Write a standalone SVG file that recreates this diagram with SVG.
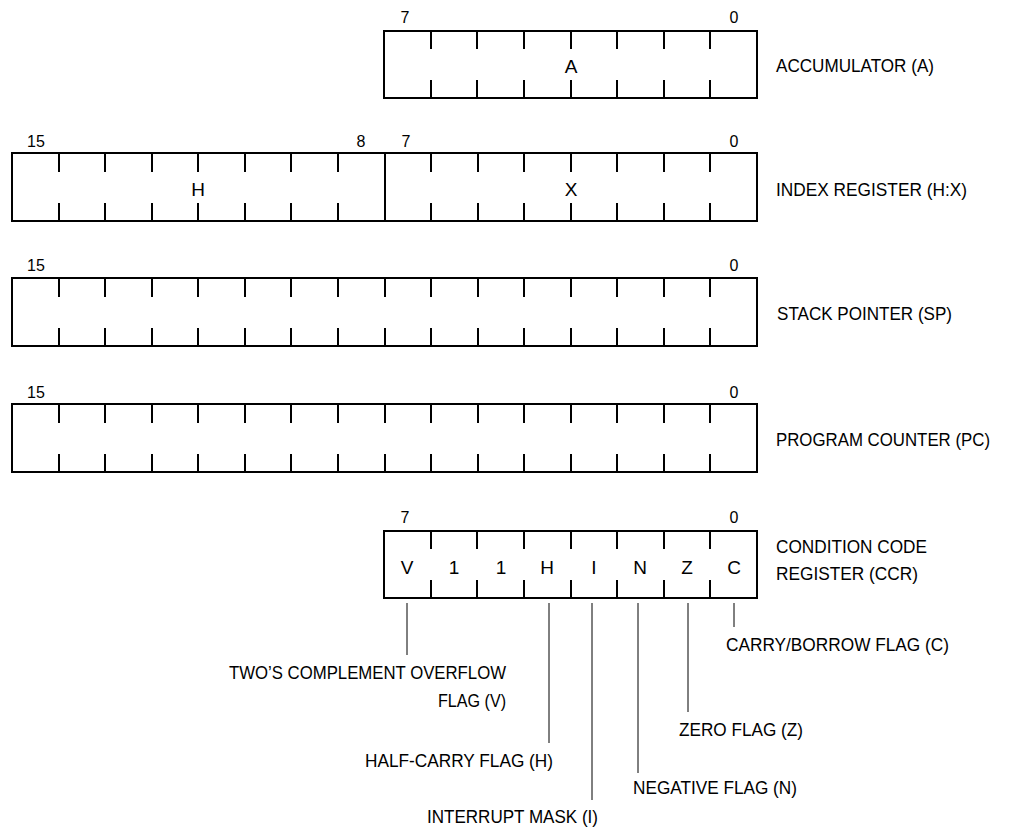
<svg xmlns="http://www.w3.org/2000/svg" width="1010" height="832" viewBox="0 0 1010 832">
<style>
.box{fill:none;stroke:#000;stroke-width:2}
.tick{fill:none;stroke:#000;stroke-width:2}
.lead{fill:none;stroke:#000;stroke-width:1}
text{font-family:"Liberation Sans",Arial,sans-serif;fill:#000}
.bit{font-size:16px;text-anchor:middle}
.cell{font-size:19px;text-anchor:middle}
.lbl{font-size:19px}
.lbl2{font-size:17.5px}
</style>
<rect width="1010" height="832" fill="#fff"/>
<g id="accumulator">
<rect class="box" x="384" y="31" width="373" height="67"/>
<path class="tick" d="M431,31v18M477,31v18M524,31v18M571,31v18M617,31v18M664,31v18M710,31v18M431,80v18M477,80v18M524,80v18M571,80v18M617,80v18M664,80v18M710,80v18"/>
<text class="bit" x="405" y="23">7</text>
<text class="bit" x="734" y="23">0</text>
<text class="cell" x="571" y="73">A</text>
<text class="lbl" x="776" y="72" textLength="158" lengthAdjust="spacingAndGlyphs">ACCUMULATOR (A)</text>
</g>
<g id="index-register">
<rect class="box" x="12" y="153" width="745" height="68"/>
<path class="tick" d="M385,153v68M59,153v19M105,153v19M152,153v19M198,153v19M245,153v19M291,153v19M338,153v19M431,153v19M478,153v19M524,153v19M571,153v19M617,153v19M664,153v19M710,153v19M59,203v18M105,203v18M152,203v18M198,203v18M245,203v18M291,203v18M338,203v18M431,203v18M478,203v18M524,203v18M571,203v18M617,203v18M664,203v18M710,203v18"/>
<text class="bit" x="36" y="147">15</text>
<text class="bit" x="361" y="147">8</text>
<text class="bit" x="406" y="147">7</text>
<text class="bit" x="734" y="147">0</text>
<text class="cell" x="198" y="196">H</text>
<text class="cell" x="571" y="196">X</text>
<text class="lbl" x="776" y="196" textLength="191" lengthAdjust="spacingAndGlyphs">INDEX REGISTER (H:X)</text>
</g>
<g id="stack-pointer">
<rect class="box" x="12" y="278" width="745" height="68"/>
<path class="tick" d="M59,278v19M105,278v19M152,278v19M198,278v19M245,278v19M291,278v19M338,278v19M385,278v19M431,278v19M478,278v19M524,278v19M571,278v19M617,278v19M664,278v19M710,278v19M59,328v18M105,328v18M152,328v18M198,328v18M245,328v18M291,328v18M338,328v18M385,328v18M431,328v18M478,328v18M524,328v18M571,328v18M617,328v18M664,328v18M710,328v18"/>
<text class="bit" x="36" y="271">15</text>
<text class="bit" x="734" y="271">0</text>
<text class="lbl" x="777" y="320" textLength="175" lengthAdjust="spacingAndGlyphs">STACK POINTER (SP)</text>
</g>
<g id="program-counter">
<rect class="box" x="12" y="404" width="745" height="68"/>
<path class="tick" d="M59,404v19M105,404v19M152,404v19M198,404v19M245,404v19M291,404v19M338,404v19M385,404v19M431,404v19M478,404v19M524,404v19M571,404v19M617,404v19M664,404v19M710,404v19M59,454v18M105,454v18M152,454v18M198,454v18M245,454v18M291,454v18M338,454v18M385,454v18M431,454v18M478,454v18M524,454v18M571,454v18M617,454v18M664,454v18M710,454v18"/>
<text class="bit" x="36" y="398">15</text>
<text class="bit" x="734" y="398">0</text>
<text class="lbl2" x="776" y="446" textLength="214" lengthAdjust="spacingAndGlyphs">PROGRAM COUNTER (PC)</text>
</g>
<g id="condition-code-register">
<rect class="box" x="384" y="531" width="373" height="67"/>
<path class="tick" d="M431,531v18M477,531v18M524,531v18M571,531v18M617,531v18M664,531v18M710,531v18M431,580v18M477,580v18M524,580v18M571,580v18M617,580v18M664,580v18M710,580v18"/>
<text class="bit" x="405" y="523">7</text>
<text class="bit" x="734" y="523">0</text>
<text class="cell" x="407" y="574">V</text>
<text class="cell" x="454" y="574">1</text>
<text class="cell" x="501" y="574">1</text>
<text class="cell" x="547" y="574">H</text>
<text class="cell" x="594" y="574">I</text>
<text class="cell" x="640" y="574">N</text>
<text class="cell" x="687" y="574">Z</text>
<text class="cell" x="734" y="574">C</text>
<text class="lbl" x="776" y="553" textLength="151" lengthAdjust="spacingAndGlyphs">CONDITION CODE</text>
<text class="lbl" x="776" y="580" textLength="142" lengthAdjust="spacingAndGlyphs">REGISTER (CCR)</text>
</g>
<g id="connectors">
<path class="lead" d="M407,603V655M549,603V743M592,603V800M638,603V773M688,603V712M734,603V627"/>
</g>
<g id="flag-v">
<text class="lbl" x="229" y="679" textLength="277" lengthAdjust="spacingAndGlyphs">TWO’S COMPLEMENT OVERFLOW</text>
<text class="lbl" x="438" y="707" textLength="68" lengthAdjust="spacingAndGlyphs">FLAG (V)</text>
</g>
<g id="flag-h">
<text class="lbl" x="365" y="767" textLength="188" lengthAdjust="spacingAndGlyphs">HALF-CARRY FLAG (H)</text>
</g>
<g id="flag-i">
<text class="lbl" x="427" y="823" textLength="171" lengthAdjust="spacingAndGlyphs">INTERRUPT MASK (I)</text>
</g>
<g id="flag-n">
<text class="lbl" x="633" y="794" textLength="164" lengthAdjust="spacingAndGlyphs">NEGATIVE FLAG (N)</text>
</g>
<g id="flag-z">
<text class="lbl" x="679" y="736" textLength="124" lengthAdjust="spacingAndGlyphs">ZERO FLAG (Z)</text>
</g>
<g id="flag-c">
<text class="lbl" x="726" y="651" textLength="223" lengthAdjust="spacingAndGlyphs">CARRY/BORROW FLAG (C)</text>
</g>
</svg>
